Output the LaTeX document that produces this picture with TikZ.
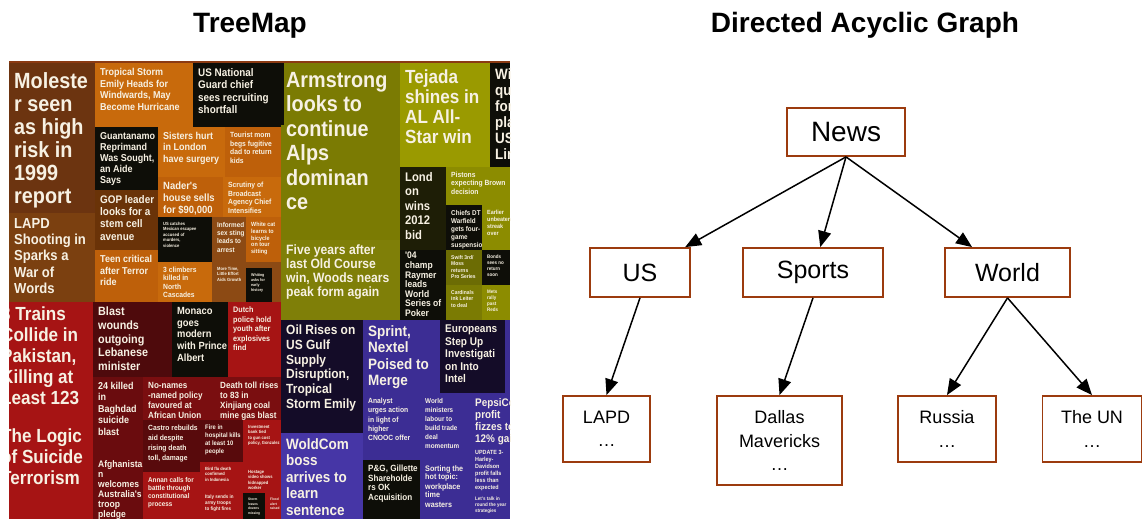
\documentclass[tikz,border=0pt]{standalone}
\usepackage{fontspec}
\setmainfont{Liberation Sans}
\newfontfamily\tmfont[FakeStretch=0.9]{Liberation Sans}
\usetikzlibrary{arrows.meta}
\definecolor{dagbrown}{HTML}{9C3B0E}
\definecolor{tmtext}{HTML}{F7F1E3}
\definecolor{tmedge}{HTML}{8B3A12}
\definecolor{tmbrownA}{HTML}{6C3410}
\definecolor{tmbrownB}{HTML}{7B4010}
\definecolor{tmbrownC}{HTML}{6A3308}
\definecolor{tmbrownD}{HTML}{8C4A14}
\definecolor{tmorange}{HTML}{C86A0C}
\definecolor{tmorangeB}{HTML}{BE600A}
\definecolor{tmoliveA}{HTML}{7B7B03}
\definecolor{tmoliveB}{HTML}{7F7F08}
\definecolor{tmoliveC}{HTML}{9A9A00}
\definecolor{tmoliveD}{HTML}{8C8C00}
\definecolor{tmoliveE}{HTML}{6C6C04}
\definecolor{tmdark}{HTML}{0E0E08}
\definecolor{tmolivedark}{HTML}{1E1E06}
\definecolor{tmred}{HTML}{A61414}
\definecolor{tmredA}{HTML}{4E0A0C}
\definecolor{tmredB}{HTML}{6A0C0E}
\definecolor{tmredC}{HTML}{7A0E10}
\definecolor{tmredD}{HTML}{580A0C}
\definecolor{tmnavy}{HTML}{140C28}
\definecolor{tmblue}{HTML}{3C2D94}
\definecolor{tmblueB}{HTML}{4636A6}

% one treemap cell: [opts]{name}{corner}{corner}{colour}{size}{leading}{text}
\newcommand\tmtile[8][]{%
  \fill[#5] #3 rectangle #4;
  \begin{scope}
    \clip #3 rectangle #4;
    \node[tiletext, #1, font=\tmfont\bfseries\fontsize{#6}{#7}\selectfont] (#2) at #3 {#8};
  \end{scope}}

\begin{document}
\begin{tikzpicture}[x=1pt, y=-1pt,
  tiletext/.style={anchor=north west, align=left, inner xsep=5pt, inner ysep=5pt, text=tmtext},
  title/.style={font=\bfseries\fontsize{28}{30}\selectfont, anchor=base},
  dagbox/.style={draw=dagbrown, line width=1.8pt, fill=white, minimum height=49pt, font=\fontsize{25}{28}\selectfont},
  leafbox/.style={dagbox, minimum height=66pt, align=center, font=\fontsize{18}{23.5}\selectfont},
  dagarrow/.style={-{Triangle[length=16pt,width=13pt]}, line width=1.5pt}]
  \useasboundingbox (0,0) rectangle (1144,519);

  \node[title] (tmtitle) at (250,33) {TreeMap};
  \node[title] (dagtitle) at (865,33) {Directed Acyclic Graph};

  % treemap, brown block
  \tmtile[yshift=-4pt]{molester}{(9,63)}{(95,213)}{tmbrownA}{22}{23}{Moleste\\r seen\\as high\\risk in\\1999\\report}
  \tmtile{lapdshoot}{(9,213)}{(95,302)}{tmbrownB}{14.5}{16.3}{LAPD\\Shooting in\\Sparks a\\War of\\Words}
  \tmtile{tropical}{(95,63)}{(193,127)}{tmorange}{10}{11.7}{Tropical Storm\\Emily Heads for\\Windwards, May\\Become Hurricane}
  \tmtile{usguard}{(193,63)}{(281,127)}{tmdark}{11}{12.5}{US National\\Guard chief\\sees recruiting\\shortfall}
  \tmtile{guantanamo}{(95,127)}{(158,190)}{tmdark}{10}{11}{Guantanamo\\Reprimand\\Was Sought,\\an Aide\\Says}
  \tmtile{sisters}{(158,127)}{(225,177)}{tmorange}{10}{11.5}{Sisters hurt\\in London\\have surgery}
  \tmtile{tourist}{(225,127)}{(281,177)}{tmorangeB}{7.5}{8.5}{Tourist mom\\begs fugitive\\dad to return\\kids}
  \tmtile{nader}{(158,177)}{(223,217)}{tmorangeB}{10.5}{11.7}{Nader's\\house sells\\for \$90,000}
  \tmtile{scrutiny}{(223,177)}{(281,217)}{tmorange}{7.5}{8.5}{Scrutiny of\\Broadcast\\Agency Chief\\Intensifies}
  \tmtile{gop}{(95,190)}{(158,250)}{tmbrownC}{11}{12.3}{GOP leader\\looks for a\\stem cell\\avenue}
  \tmtile{teen}{(95,250)}{(158,302)}{tmorangeB}{10}{11.7}{Teen critical\\after Terror\\ride}
  \tmtile{escapee}{(158,217)}{(212,262)}{tmdark}{4.5}{5.5}{US catches\\Mexican escapee\\accused of\\murders,\\violence}
  \tmtile{sting}{(212,217)}{(246,262)}{tmbrownD}{7}{8.3}{Informed\\sex sting\\leads to\\arrest}
  \tmtile{whitecat}{(246,217)}{(281,262)}{tmorangeB}{6}{6.8}{White cat\\learns to\\bicycle\\on tour\\sitting}
  \tmtile{climbers}{(158,262)}{(212,302)}{tmorange}{7.5}{8.3}{3 climbers\\killed in\\North\\Cascades}
  \tmtile{moretime}{(212,262)}{(246,302)}{tmbrownD}{4.5}{5.5}{More Time,\\Little Effort\\Aids Growth}
  \fill[tmbrownD] (246,262) rectangle (281,302);
  \tmtile{whiting}{(246,268)}{(272,302)}{tmdark}{4}{5}{Whiting\\asks for\\early\\history}

  % treemap, olive block
  \tmtile[yshift=-4pt]{armstrong}{(281,63)}{(400,240)}{tmoliveA}{22}{24.5}{Armstrong\\looks to\\continue\\Alps\\dominan\\ce}
  \fill[tmdark] (281,63) rectangle (284,125);
  \tmtile{fiveyears}{(281,240)}{(400,320)}{tmoliveB}{13.5}{13.7}{Five years after\\last Old Course\\win, Woods nears\\peak form again}
  \tmtile[yshift=-2pt]{tejada}{(400,63)}{(490,167)}{tmoliveC}{19}{20}{Tejada\\shines in\\AL All-\\Star win}
  \tmtile{wie}{(490,63)}{(510,167)}{tmdark}{15}{16}{Wie\\qualifies\\for\\playoff in\\US Women's\\Links}
  \tmtile{london}{(400,167)}{(446,250)}{tmolivedark}{12.5}{14.5}{Lond\\on\\wins\\2012\\bid}
  \tmtile{pistons}{(446,167)}{(510,205)}{tmoliveD}{7.5}{8.3}{Pistons\\expecting Brown\\decision}
  \tmtile{chiefs}{(446,205)}{(482,250)}{tmdark}{7}{8}{Chiefs DT\\Warfield\\gets four-\\game\\suspension}
  \tmtile{earlier}{(482,205)}{(510,250)}{tmoliveD}{6}{7}{Earlier\\unbeaten\\streak\\over}
  \tmtile[yshift=3pt]{raymer}{(400,250)}{(446,320)}{tmdark}{9.5}{9.6}{'04\\champ\\Raymer\\leads\\World\\Series of\\Poker}
  \tmtile{swift}{(446,250)}{(482,285)}{tmoliveE}{5.5}{6.5}{Swift 3rd/\\Moss\\returns\\Pro Series}
  \tmtile{bonds}{(482,250)}{(510,285)}{tmdark}{5}{6}{Bonds\\sees no\\return\\soon}
  \tmtile{cards}{(446,285)}{(482,320)}{tmoliveA}{5.5}{6.5}{Cardinals\\ink Leiter\\to deal}
  \tmtile{mets}{(482,285)}{(510,320)}{tmoliveD}{5}{6}{Mets\\rally\\past\\Reds}

  % treemap, red block
  \tmtile[xshift=-13pt]{trains}{(9,302)}{(93,418)}{tmred}{19}{21}{3 Trains\\Collide in\\Pakistan,\\Killing at\\Least 123}
  \tmtile[xshift=-13pt, yshift=-6pt]{logic}{(9,418)}{(93,519)}{tmred}{19}{21}{The Logic\\of Suicide\\Terrorism}
  \tmtile{blast}{(93,302)}{(172,377)}{tmredA}{12}{13.7}{Blast\\wounds\\outgoing\\Lebanese\\minister}
  \tmtile{monaco}{(172,302)}{(228,377)}{tmdark}{10.4}{11.7}{Monaco\\goes\\modern\\with Prince\\Albert}
  \tmtile{dutch}{(228,302)}{(281,377)}{tmred}{8}{9.5}{Dutch\\police hold\\youth after\\explosives\\find}
  \tmtile{killed}{(93,377)}{(143,455)}{tmredB}{10}{11.5}{24 killed\\in\\Baghdad\\suicide\\blast}
  \tmtile{afghan}{(93,455)}{(143,519)}{tmredB}{9.5}{10}{Afghanista\\n\\welcomes\\Australia's\\troop\\pledge}
  \tmtile{nonames}{(143,377)}{(215,420)}{tmredC}{9}{10}{No-names\\-named policy\\favoured at\\African Union}
  \tmtile{deathtoll}{(215,377)}{(281,420)}{tmredC}{9}{10}{Death toll rises\\to 83 in\\Xinjiang coal\\mine gas blast}
  \tmtile{castro}{(143,420)}{(200,472)}{tmredD}{7.5}{10}{Castro rebuilds\\aid despite\\rising death\\toll, damage}
  \tmtile{fire}{(200,420)}{(243,462)}{tmredD}{6.5}{8}{Fire in\\hospital kills\\at least 10\\people}
  \tmtile{investment}{(243,420)}{(281,465)}{tmred}{4.5}{5.5}{Investment\\bank tied\\to gun cost\\policy, Gonzalez}
  \tmtile{annan}{(143,472)}{(200,519)}{tmred}{7}{8}{Annan calls for\\battle through\\constitutional\\process}
  \tmtile{birdflu}{(200,462)}{(243,490)}{tmred}{4.5}{5.5}{Bird flu death\\confirmed\\in Indonesia}
  \tmtile{hostage}{(243,465)}{(281,493)}{tmred}{4.5}{5.5}{Hostage\\video shows\\kidnapped\\worker}
  \tmtile{italy}{(200,490)}{(243,519)}{tmred}{5}{6}{Italy sends in\\army troops\\to fight fires}
  \tmtile{tinyblack}{(243,493)}{(265,519)}{tmdark}{3.5}{4.5}{Storm\\leaves\\dozens\\missing}
  \tmtile{tinyred}{(265,493)}{(281,519)}{tmred}{3.5}{4.5}{Flood\\alert\\raised}

  % treemap, blue block
  \fill[tmblue] (281,320) rectangle (510,519);
  \tmtile{oil}{(281,320)}{(363,433)}{tmnavy}{13.3}{14.7}{Oil Rises on\\US Gulf\\Supply\\Disruption,\\Tropical\\Storm Emily}
  \tmtile{sprint}{(363,320)}{(440,393)}{tmblue}{15}{16.5}{Sprint,\\Nextel\\Poised to\\Merge}
  \tmtile{europeans}{(440,320)}{(505,393)}{tmnavy}{11.2}{12.5}{Europeans\\Step Up\\Investigati\\on Into\\Intel}
  \tmtile{woldcom}{(281,433)}{(363,519)}{tmblueB}{15}{16.5}{WoldCom\\boss\\arrives to\\learn\\sentence}
  \tmtile{analyst}{(363,393)}{(420,460)}{tmblue}{7.5}{9.3}{Analyst\\urges action\\in light of\\higher\\CNOOC offer}
  \tmtile{worldmin}{(420,393)}{(470,460)}{tmblue}{7}{9}{World\\ministers\\labour to\\build trade\\deal\\momentum}
  \tmtile{pepsico}{(470,393)}{(510,445)}{tmblue}{11}{12}{PepsiCo\\profit\\fizzes to\\12\% gain}
  \tmtile{harley}{(470,445)}{(510,492)}{tmblue}{6}{7}{UPDATE 3-\\Harley-\\Davidson\\profit falls\\less than\\expected}
  \tmtile{letstalk}{(470,492)}{(510,519)}{tmblue}{5}{6}{Let's talk in\\round the year\\strategies}
  \tmtile{pg}{(363,460)}{(420,519)}{tmdark}{9}{9.5}{P\&G, Gillette\\Shareholde\\rs OK\\Acquisition}
  \tmtile{sorting}{(420,460)}{(470,519)}{tmblue}{8}{9}{Sorting the\\hot topic:\\workplace\\time\\wasters}
  \fill[tmedge] (9,61) rectangle (510,63.5);

  % directed acyclic graph
  \node[dagbox, minimum width=118pt, minimum height=48pt, font=\fontsize{28}{30}\selectfont] (news) at (846,132) {News};
  \node[dagbox, minimum width=100pt] (us) at (640,272.5) {US};
  \node[dagbox, minimum width=140pt] (sports) at (813,272.5) {Sports};
  \node[dagbox, minimum width=125pt] (world) at (1007.5,272.5) {World};
  \node[leafbox, minimum width=87pt] (lapd) at (606.5,429) {LAPD\\…};
  \node[leafbox, minimum width=125pt, minimum height=89pt] (dallas) at (779.5,440.5) {Dallas\\Mavericks\\…};
  \node[leafbox, minimum width=98pt] (russia) at (947,429) {Russia\\…};
  \node[leafbox, minimum width=99pt] (theun) at (1092,429) {The UN\\…};

  \draw[dagarrow] (news.south) -- (us);
  \draw[dagarrow] (news.south) -- (sports);
  \draw[dagarrow] (news.south) -- (world);
  \draw[dagarrow] (us.south) -- (lapd.north);
  \draw[dagarrow] (sports.south) -- (dallas.north);
  \draw[dagarrow] (world.south) -- (russia.north);
  \draw[dagarrow] (world.south) -- (theun.north);
\end{tikzpicture}
\end{document}
